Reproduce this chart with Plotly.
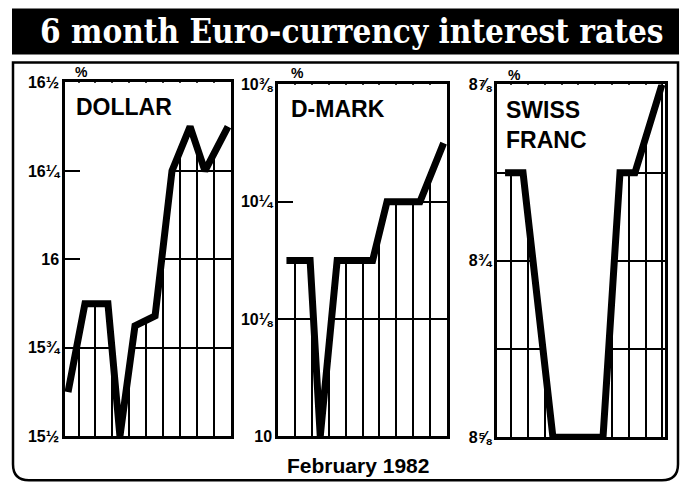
import plotly.graph_objects as go

W, H = 682, 494

# ---------------- data ----------------
dollar_x = [0.18, 1.18, 2.54, 3.25, 4.14, 5.33, 6.33, 7.40, 8.28, 9.64]
dollar_y = [15.625, 15.875, 15.875, 15.5, 15.8125, 15.84, 16.25, 16.375, 16.25, 16.375]
dollar_ticks = [15.5, 15.75, 16.0, 16.25, 16.5]
dollar_labels = ["15½", "15¾", "16", "16¼", "16½"]

dmark_x = [0.5, 1.9, 2.5, 3.5, 5.6, 6.45, 8.4, 9.8]
dmark_y = [10.1875, 10.1875, 10.0, 10.1875, 10.1875, 10.25, 10.25, 10.3125]
dmark_ticks = [10.0, 10.125, 10.25, 10.375]
dmark_labels = ["10", "10⅛", "10¼", "10⅜"]

swiss_x = [0.48, 1.55, 3.33, 6.31, 7.32, 8.21, 9.82]
swiss_y = [8.8125, 8.8125, 8.625, 8.625, 8.8125, 8.8125, 8.875]
swiss_ticks = [8.625, 8.75, 8.875]
swiss_labels = ["8⅝", "8¾", "8⅞"]
swiss_minor = [8.6875, 8.8125]

panel_names = ["DOLLAR", "D-MARK", "SWISS<br>FRANC"]
title_text = "6 month Euro-currency interest rates"
xlabel_text = "February 1982"

# ---------------- helpers (picture pixel -> paper) ----------------
S, OFF = 0.966, 7.5

def px(x):
    return x / W

def py(y):
    yp = (y - OFF) / S
    yp = min(max(yp, 0.0), H - 1.5)
    return 1 - yp / H

SANS = "Liberation Sans, Arial, sans-serif"

panels = [
    dict(x=dollar_x, y=dollar_y, ticks=dollar_ticks, labels=dollar_labels,
         yr=[15.5, 16.5], xr=[0, 9.82], tick0=0.8,
         dom_x=[px(65), px(231)], dom_y=[py(436), py(82)], minor=None),
    dict(x=dmark_x, y=dmark_y, ticks=dmark_ticks, labels=dmark_labels,
         yr=[10.0, 10.375], xr=[0, 10], tick0=1.0,
         dom_x=[px(278), px(447)], dom_y=[py(436), py(84)], minor=None),
    dict(x=swiss_x, y=swiss_y, ticks=swiss_ticks, labels=swiss_labels,
         yr=[8.625, 8.875], xr=[0, 10], tick0=0.85,
         dom_x=[px(497), px(665)], dom_y=[py(437), py(84)], minor=swiss_minor),
]

fig = go.Figure()
layout = dict(
    width=W, height=H, margin=dict(l=0, r=0, t=0, b=0),
    paper_bgcolor="white", plot_bgcolor="white", showlegend=False,
)

for i, p in enumerate(panels, start=1):
    xa = "x" if i == 1 else f"x{i}"
    ya = "y" if i == 1 else f"y{i}"
    top = p["yr"][1]
    # invisible top edge used to mask the grid above the line
    fig.add_trace(go.Scatter(x=p["x"], y=[top] * len(p["x"]), mode="lines",
                             line=dict(width=0, color="white"), hoverinfo="skip",
                             xaxis=xa, yaxis=ya))
    fig.add_trace(go.Scatter(x=p["x"], y=p["y"], mode="lines",
                             line=dict(width=7, color="black"),
                             fill="tonexty", fillcolor="white",
                             xaxis=xa, yaxis=ya))
    xkey = "xaxis" if i == 1 else f"xaxis{i}"
    ykey = "yaxis" if i == 1 else f"yaxis{i}"
    layout[xkey] = dict(domain=p["dom_x"], range=p["xr"], anchor=ya,
                        showgrid=True, gridcolor="black", gridwidth=2,
                        tick0=p["tick0"], dtick=1, showticklabels=False, ticks="",
                        zeroline=False, showline=True, mirror=True,
                        linecolor="black", linewidth=2.5, fixedrange=True)
    ydict = dict(domain=p["dom_y"], range=p["yr"], anchor=xa,
                 tickvals=p["ticks"], ticktext=p["labels"],
                 showgrid=True, gridcolor="black", gridwidth=2,
                 ticks="inside", ticklen=15, tickwidth=2, tickcolor="black",
                 tickfont=dict(family=SANS, size=16, color="black", weight=700),
                 zeroline=False, showline=True, mirror=True,
                 linecolor="black", linewidth=2.5, fixedrange=True)
    if p["minor"]:
        ydict["minor"] = dict(tickvals=p["minor"], showgrid=True,
                              gridcolor="black", gridwidth=2, ticks="")
    layout[ykey] = ydict

fig.update_layout(**layout)

# ---------------- decorations ----------------
shapes = []
# title banner
shapes.append(dict(type="rect", xref="paper", yref="paper",
                   x0=px(12), x1=px(679), y0=py(54), y1=py(8),
                   fillcolor="black", line=dict(width=0), layer="below"))
# rounded frame
r = 16
yb = 480
frame = (f"M {px(13)},{py(62)} L {px(13)},{py(yb - r)} "
         f"Q {px(13)},{py(yb)} {px(13 + r)},{py(yb)} "
         f"L {px(678 - r)},{py(yb)} "
         f"Q {px(678)},{py(yb)} {px(678)},{py(yb - r)} "
         f"L {px(678)},{py(62)} Z")
shapes.append(dict(type="path", xref="paper", yref="paper", path=frame,
                   line=dict(color="black", width=2.5), layer="below"))
fig.update_layout(shapes=shapes)

ann = []
ann.append(dict(text=title_text, xref="paper", yref="paper",
                x=px(351), y=py(31), xanchor="center", yanchor="middle",
                showarrow=False,
                font=dict(family="DejaVu Serif Condensed, DejaVu Serif, serif",
                          size=33, color="white", weight=700)))
ann.append(dict(text=xlabel_text, xref="paper", yref="paper",
                x=px(358), y=py(465), xanchor="center", yanchor="middle",
                showarrow=False,
                font=dict(family=SANS, size=21, color="black", weight=700)))
# panel names
name_pos = [(74, 92), (289, 94), (504, 95)]
for name, (nx, ny) in zip(panel_names, name_pos):
    ann.append(dict(text=name, xref="paper", yref="paper",
                    x=px(nx), y=py(ny), xanchor="left", yanchor="top",
                    showarrow=False, align="left",
                    font=dict(family=SANS, size=23, color="black", weight=700)))
# percent signs
for (cx, cy) in [(81, 72), (297, 73), (514, 75)]:
    ann.append(dict(text="%", xref="paper", yref="paper",
                    x=px(cx), y=py(cy), xanchor="center", yanchor="middle",
                    showarrow=False,
                    font=dict(family=SANS, size=14, color="black", weight=700)))
fig.update_layout(annotations=ann)

fig.write_html(
    "out.html",
    config=dict(displayModeBar=False),
    post_script="document.body.style.margin='0';document.body.style.overflow='hidden';",
)
